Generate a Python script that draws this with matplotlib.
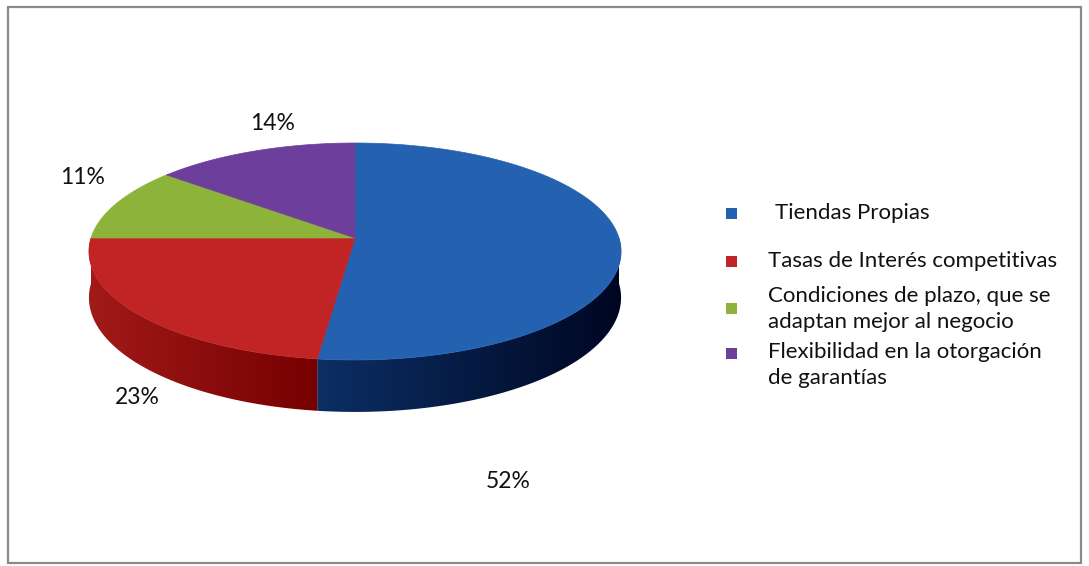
import numpy as np
import matplotlib
matplotlib.use("Agg")
import matplotlib.pyplot as plt
from matplotlib.patches import Polygon, Rectangle
from matplotlib.colors import to_rgb

# ---- data ----
categories = ["Tiendas Propias",
              "Tasas de Interés competitivas",
              "Condiciones de plazo, que se\nadaptan mejor al negocio",
              "Flexibilidad en la otorgación\nde garantías"]
values = [52, 23, 11, 14]
pct_labels = ["52%", "23%", "11%", "14%"]

top_colors = ["#2461B0", "#C02424", "#8DB33A", "#6E3E9C"]
side_light = ["#0C2F64", "#A21A1A", "#6C8C28", "#4E2C70"]
side_dark = ["#000622", "#760000", "#4A6418", "#341C50"]

W, H = 1089, 566
fig = plt.figure(figsize=(W / 100, H / 100), dpi=100)
ax = fig.add_axes([0, 0, 1, 1])
ax.axis("off")
plt.rcParams['font.family'] = ['Lato', 'DejaVu Sans']

# frame
ax.add_patch(Rectangle((8, 7), 1073, 556, fill=False, edgecolor="#8a8a8a", lw=1.6))

# perspective pie geometry
X0, Y0 = 355.0, 238.0
A, B, k = 264.0, 106.8, 0.1244
D = 45.5


def rim(t):
    u, v = np.cos(t), np.sin(t)
    w = 1 + k * v
    return X0 + A * u / w, Y0 - B * v / w, D / w


fr = np.array(values, float) / sum(values)
starts = 90 - 360 * np.concatenate([[0], np.cumsum(fr)[:-1]])
ends = starts - 360 * fr

# sides (front half only: t in [-180, 0]) with horizontal gradient
for i in range(len(values)):
    lo, hi = max(ends[i], -180), min(starts[i], 0)
    if hi <= lo:
        continue
    ts = np.radians(np.linspace(lo, hi, 200))
    xs, ys, ds = rim(ts)
    pts = list(zip(xs, ys)) + list(zip(xs[::-1], (ys + ds)[::-1]))
    poly = Polygon(pts, closed=True, facecolor="none", edgecolor="none")
    ax.add_patch(poly)
    x0, x1 = xs.min(), xs.max()
    y0, y1 = ys.min(), (ys + ds).max()
    n = 256
    f = np.linspace(0, 1, n)[None, :, None]
    c1, c2 = np.array(to_rgb(side_light[i])), np.array(to_rgb(side_dark[i]))
    img = c1 * (1 - f) + c2 * f
    im = ax.imshow(img, extent=(x0 - 1, x1 + 1, y1 + 1, y0 - 1), aspect="auto",
                   interpolation="bilinear", zorder=1)
    im.set_clip_path(poly)

# top wedges
for i in range(len(values)):
    ts = np.radians(np.linspace(starts[i], ends[i], 200))
    xs, ys, _ = rim(ts)
    pts = [(X0, Y0)] + list(zip(xs, ys))
    ax.add_patch(Polygon(pts, closed=True, facecolor=top_colors[i],
                         edgecolor=top_colors[i], lw=0.5, zorder=2))

ax.set_xlim(0, W)
ax.set_ylim(H, 0)

# percentage labels
label_pos = [(508, 482), (137, 398), (83, 178), (273, 123)]
for (x, y), s in zip(label_pos, pct_labels):
    ax.text(x, y, s, fontsize=16.5, ha="center", va="center", color="#111111", zorder=3)

# legend
sq_y = [214, 262, 309, 354]
txt_y = [213, 261, 296, 352]
for i, cat in enumerate(categories):
    ax.add_patch(Rectangle((726, sq_y[i] - 6), 11, 11, facecolor=top_colors[i],
                           edgecolor="none", zorder=3))
    tx = 775 if i == 0 else 768
    for j, ln in enumerate(cat.split("\n")):
        ax.text(tx, txt_y[i] + 26 * j, ln, fontsize=16, ha="left", va="center",
                color="#111111", zorder=3)

fig.savefig("out.png", dpi=100)
